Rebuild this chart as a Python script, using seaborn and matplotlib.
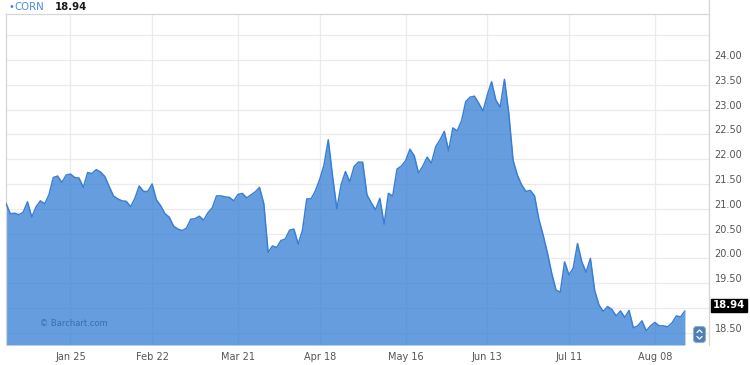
import numpy as np
import pandas as pd
import matplotlib
matplotlib.use("Agg")
import matplotlib.pyplot as plt
import matplotlib.transforms as mtransforms
from matplotlib.patches import FancyBboxPatch
from matplotlib.lines import Line2D
import seaborn as sns

# ---------------- data ----------------
series_name = "CORN"
last_price = 18.94
start_date = "2015-12-31"
end_date = "2016-08-17"
market_holidays = ["2016-01-01", "2016-01-18", "2016-02-15", "2016-03-25",
                   "2016-05-30", "2016-07-04"]

prices = [
    21.11, 20.90, 20.91, 20.88, 20.93, 21.14, 20.83, 21.04, 21.16, 21.10,
    21.28, 21.63, 21.66, 21.53, 21.68, 21.70, 21.63, 21.62, 21.43, 21.73,
    21.71, 21.79, 21.74, 21.65, 21.45, 21.26, 21.20, 21.16, 21.15, 21.04,
    21.21, 21.46, 21.35, 21.35, 21.50, 21.18, 21.06, 20.90, 20.83, 20.65,
    20.59, 20.56, 20.61, 20.79, 20.80, 20.85, 20.77, 20.92, 21.02, 21.26,
    21.26, 21.24, 21.23, 21.16, 21.29, 21.31, 21.22, 21.28, 21.34, 21.43,
    21.10, 20.12, 20.25, 20.22, 20.36, 20.39, 20.57, 20.59, 20.29, 20.57,
    21.20, 21.20, 21.36, 21.59, 21.88, 22.39, 21.65, 21.00, 21.49, 21.75,
    21.54, 21.85, 21.94, 21.94, 21.28, 21.12, 20.98, 21.21, 20.69, 21.31,
    21.26, 21.80, 21.86, 21.97, 22.20, 22.07, 21.72, 21.86, 22.04, 21.92,
    22.25, 22.39, 22.56, 22.17, 22.63, 22.57, 22.77, 23.16, 23.25, 23.27,
    23.13, 22.97, 23.29, 23.56, 23.19, 23.05, 23.61, 22.93, 21.98, 21.68,
    21.48, 21.35, 21.37, 21.26, 20.79, 20.47, 20.11, 19.70, 19.36, 19.32,
    19.93, 19.67, 19.80, 20.30, 19.93, 19.72, 20.00, 19.35, 19.06, 18.93,
    19.03, 18.97, 18.84, 18.94, 18.81, 18.95, 18.60, 18.64, 18.74, 18.54,
    18.64, 18.71, 18.64, 18.64, 18.62, 18.70, 18.84, 18.82, 18.94,
]

tick_dates = ["2016-01-25", "2016-02-22", "2016-03-21", "2016-04-18",
              "2016-05-16", "2016-06-13", "2016-07-11", "2016-08-08"]
tick_labels = ["Jan 25", "Feb 22", "Mar 21", "Apr 18",
               "May 16", "Jun 13", "Jul 11", "Aug 08"]

y_ticks = [18.5, 19.0, 19.5, 20.0, 20.5, 21.0, 21.5, 22.0, 22.5, 23.0, 23.5, 24.0, 24.5]
# 19.00 is hidden behind the last-price tag in the reference; 24.50 has no label
y_labels = ["18.50", "", "19.50", "20.00", "20.50", "21.00", "21.50",
            "22.00", "22.50", "23.00", "23.50", "24.00", ""]

# ---------------- build frame ----------------
dates = pd.bdate_range(start_date, end_date, freq="C", holidays=market_holidays)
n = min(len(dates), len(prices))
df = pd.DataFrame({"date": dates[:n], "price": prices[:n]})
df["idx"] = np.arange(n)
tick_pos = [int(np.searchsorted(df["date"].values, np.datetime64(d))) for d in tick_dates]

# ---------------- style ----------------
sns.set_style("white")
plt.rcParams["font.family"] = ["DejaVu Sans"]

W, H = 750, 365
fig, ax = plt.subplots(figsize=(W / 100, H / 100), dpi=100)
fig.subplots_adjust(left=6 / W, right=709 / W, top=1 - 14 / H, bottom=1 - 345 / H)

y_min, y_max = 18.254, 24.927
ax.set_xlim(0, 163.6)
ax.set_ylim(y_min, y_max)

fill_color = "#317dd3"
line_color = "#3b7fd5"
ax.fill_between(df["idx"], df["price"], y_min, color=fill_color, alpha=0.75,
                linewidth=0, zorder=2)
sns.lineplot(data=df, x="idx", y="price", ax=ax, color=line_color,
             linewidth=1.1, zorder=3)

# grid
ax.set_axisbelow(True)
ax.set_yticks(y_ticks)
ax.set_yticklabels(y_labels)
ax.set_xticks(tick_pos)
ax.set_xticklabels(tick_labels)
ax.grid(True, color="#ebebeb", linewidth=0.9)
ax.set_xlabel("")
ax.set_ylabel("")

ax.yaxis.tick_right()
ax.tick_params(axis="y", length=0, pad=4, labelsize=7, labelcolor="#555555")
ax.tick_params(axis="x", length=4, width=0.9, color="#e4e4e4", pad=1,
               labelsize=7, labelcolor="#555555")
# y labels sit a little above their gridlines
offset = mtransforms.ScaledTranslation(0, 5 / 100, fig.dpi_scale_trans)
for lab in ax.get_yticklabels():
    lab.set_transform(lab.get_transform() + offset)

for side in ["left", "top", "right"]:
    ax.spines[side].set_color("#d6d6d6")
    ax.spines[side].set_linewidth(0.9)
ax.spines["bottom"].set_visible(False)
# right border continues to top of figure
ax.add_line(Line2D([1, 1], [1, 1 + 14 / 331], transform=ax.transAxes,
                   color="#d6d6d6", linewidth=0.9, clip_on=False))

# last price tag
ax.annotate(f"{last_price:.2f}", xy=(1, last_price),
            xycoords=("axes fraction", "data"),
            xytext=(4, 5.5), textcoords="offset pixels",
            ha="left", va="center", fontsize=7.3, fontweight="bold",
            color="white", zorder=10, annotation_clip=False,
            bbox=dict(boxstyle="square,pad=0.18", fc="black", ec="black"))

# legend header
fig.text(8 / W, 1 - 7.5 / H, "\u2022", color="#4a88d9", fontsize=7,
         ha="left", va="center")
fig.text(14 / W, 1 - 7 / H, series_name, color="#4a88d9", fontsize=7.3,
         ha="left", va="center")
fig.text(55 / W, 1 - 7 / H, f"{last_price:.2f}", color="#1a1a1a", fontsize=7.3,
         fontweight="bold", ha="left", va="center")

# watermark
ax.text((40 - 6) / 703, (345 - 323) / 331, "\u00a9 Barchart.com",
        transform=ax.transAxes, fontsize=6, color="#3a6db4",
        ha="left", va="center", zorder=5)

# scroll button
btn = FancyBboxPatch((693.5, 22.5), 12, 16, boxstyle="round,pad=0,rounding_size=3",
                     transform=mtransforms.IdentityTransform(), fc="#4f7fae",
                     ec="#8fb0d0", linewidth=0.8, zorder=20)
fig.add_artist(btn)
fig.add_artist(Line2D([697, 699.5, 702], [32.5, 35, 32.5],
                      transform=mtransforms.IdentityTransform(),
                      color="#e6eef6", linewidth=1.0, zorder=21))
fig.add_artist(Line2D([697, 699.5, 702], [28.5, 26, 28.5],
                      transform=mtransforms.IdentityTransform(),
                      color="#e6eef6", linewidth=1.0, zorder=21))

fig.savefig("out.png", dpi=100)
